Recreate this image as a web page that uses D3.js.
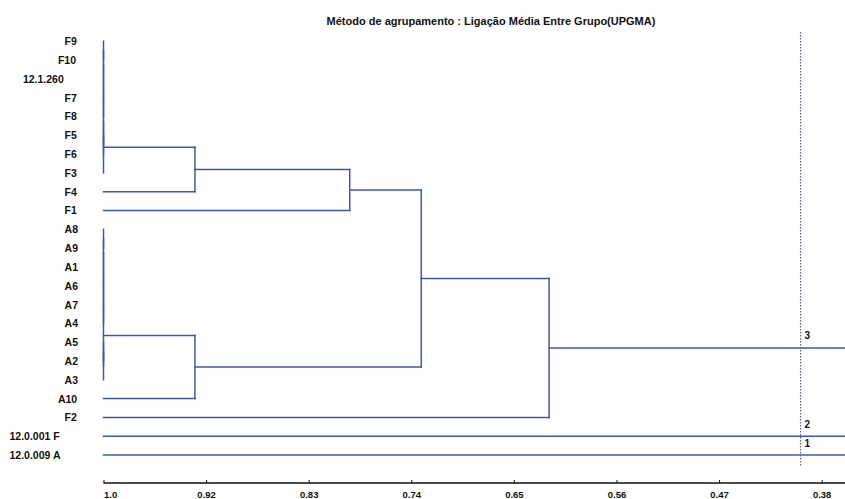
<!DOCTYPE html>
<html>
<head>
<meta charset="utf-8">
<script src="https://cdn.jsdelivr.net/npm/d3@7"></script>
<style>
  html, body { margin: 0; padding: 0; background: #fff; }
  svg { display: block; font-family: "Liberation Sans", Arial, sans-serif; }
</style>
</head>
<body>
<svg id="chart" width="845" height="499"></svg>
<script>
// Leaves, top to bottom
const leaves = ["F9", "F10", "12.1.260", "F7", "F8", "F5", "F6", "F3", "F4", "F1",
  "A8", "A9", "A1", "A6", "A7", "A4", "A5", "A2", "A3", "A10", "F2",
  "12.0.001 F", "12.0.009 A"];

// UPGMA merges: [id, left, right, similarity]
const merges = [
  ["m1", "F9", "F10", 1.0],
  ["m2", "m1", "12.1.260", 1.0],
  ["m3", "m2", "F7", 1.0],
  ["m4", "m3", "F8", 1.0],
  ["m5", "F5", "F6", 1.0],
  ["m6", "m4", "m5", 1.0],
  ["m7", "m6", "F3", 1.0],
  ["m8", "m7", "F4", 0.922],
  ["m9", "m8", "F1", 0.790],
  ["a1", "A8", "A9", 1.0],
  ["a2", "a1", "A1", 1.0],
  ["a3", "a2", "A6", 1.0],
  ["a4", "a3", "A7", 1.0],
  ["a5", "a4", "A4", 1.0],
  ["a6", "A5", "A2", 1.0],
  ["a7", "a6", "A3", 1.0],
  ["a8", "a5", "a7", 1.0],
  ["a9", "a8", "A10", 0.922],
  ["n1", "m9", "a9", 0.729],
  ["n2", "n1", "F2", 0.620]
];

// Groups still separate at the right edge of the scale, bottom to top they get numbers 1..3
const topBranches = ["12.0.009 A", "12.0.001 F", "n2"];
const clusterNames = ["1", "2", "3"];
const cutLevel = 0.4055;

// Axis ticks and their printed labels
const tickValues = [1.0, 0.9125, 0.825, 0.7375, 0.65, 0.5625, 0.475, 0.3875];
const tickLabels = ["1.0", "0.92", "0.83", "0.74", "0.65", "0.56", "0.47", "0.38"];

const title = "Método de agrupamento : Ligação Média Entre Grupo(UPGMA)";

const W = 845, H = 499;
const lineColor = "#4256b0";
const svg = d3.select("#chart");

const x = d3.scaleLinear().domain([1.0, 0.3676]).range([103.5, W]);
const y = d3.scalePoint().domain(leaves).range([41.2, 455]);

// node positions
const nodeY = new Map(), nodeH = new Map();
leaves.forEach(l => { nodeY.set(l, y(l)); nodeH.set(l, 1.0); });
merges.forEach(([id, a, b, h]) => {
  nodeY.set(id, (nodeY.get(a) + nodeY.get(b)) / 2);
  nodeH.set(id, h);
});

// Title
svg.append("text")
  .attr("x", 491).attr("y", 21)
  .attr("text-anchor", "middle").attr("dominant-baseline", "central")
  .attr("font-size", 11).attr("font-weight", "bold").attr("fill", "#111")
  .text(title);

// Leaf labels (start placed by character count, as in fixed-field output)
const charW = 6.7, labelRight = 76.5;
svg.append("g").selectAll("text").data(leaves).join("text")
  .attr("x", d => labelRight - d.length * charW + (d.length <= 3 ? 1.5 : 0))
  .attr("y", d => y(d))
  .attr("dominant-baseline", "central")
  .attr("font-size", 10.5).attr("font-weight", "bold").attr("fill", "#111")
  .text(d => d);

// Dendrogram segments
const segs = [];
merges.forEach(([id, a, b, h]) => {
  segs.push([x(h), nodeY.get(a), x(h), nodeY.get(b)]);
  [a, b].forEach(c => {
    if (nodeH.get(c) !== h) segs.push([x(nodeH.get(c)), nodeY.get(c), x(h), nodeY.get(c)]);
  });
});
topBranches.forEach(n => {
  segs.push([x(nodeH.get(n)), nodeY.get(n), x.range()[1], nodeY.get(n)]);
});
svg.append("g").selectAll("line").data(segs).join("line")
  .attr("x1", d => d[0]).attr("y1", d => d[1])
  .attr("x2", d => d[2]).attr("y2", d => d[3])
  .attr("stroke", lineColor).attr("stroke-width", 1.5)
  .attr("stroke-linecap", "square");

// Cut line
svg.append("line")
  .attr("x1", x(cutLevel)).attr("x2", x(cutLevel))
  .attr("y1", 32).attr("y2", 466)
  .attr("stroke", "#5566aa").attr("stroke-width", 1.2)
  .attr("stroke-dasharray", "1.5,1.5");

svg.append("g").selectAll("text").data(topBranches).join("text")
  .attr("x", x(cutLevel) + 4)
  .attr("y", d => nodeY.get(d) - 12)
  .attr("dominant-baseline", "central")
  .attr("font-size", 10).attr("font-weight", "bold").attr("fill", "#111")
  .text((d, i) => clusterNames[i]);

// Bottom axis
const axis = d3.axisBottom(x)
  .tickValues(tickValues)
  .tickFormat((d, i) => tickLabels[i])
  .tickSize(-3).tickSizeOuter(0);
const gAxis = svg.append("g").attr("transform", "translate(0,483)").call(axis);
gAxis.select(".domain").attr("stroke", "#111").attr("stroke-width", 1.6)
  .attr("d", `M${x.range()[0]},0H${x.range()[1]}`);
gAxis.selectAll(".tick line").attr("stroke", "#111");
gAxis.selectAll(".tick text")
  .attr("y", 12).attr("dy", "0.35em")
  .attr("font-size", 9.5).attr("font-weight", "bold").attr("fill", "#111")
  .attr("font-family", "Liberation Sans, Arial, sans-serif")
  .attr("text-anchor", (d, i) => i === 0 ? "start" : "middle");
</script>
</body>
</html>
